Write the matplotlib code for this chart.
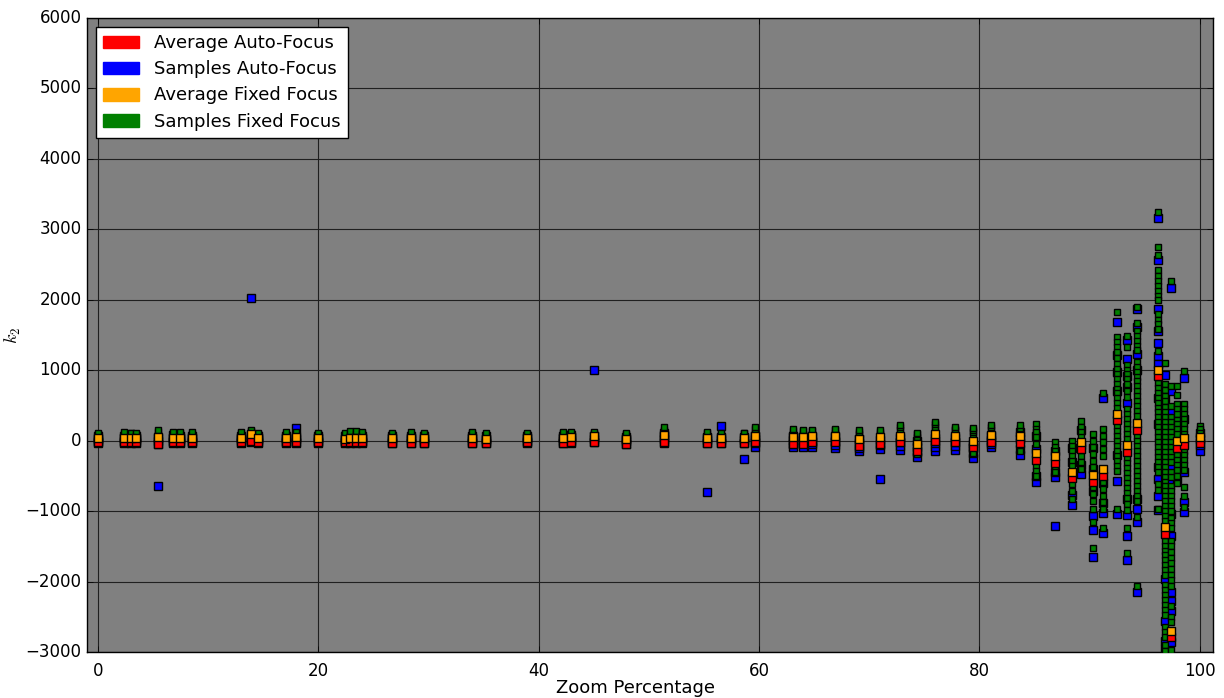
import matplotlib
matplotlib.use("Agg")
import matplotlib.pyplot as plt
from matplotlib.patches import Patch

plt.style.use("classic")

# ---------------- data ----------------
zoom_pct = [0.0, 2.36, 2.97, 3.45, 5.42, 6.78, 7.47, 8.53, 12.98, 13.88,
            14.55, 17.03, 17.99, 19.94, 22.41, 22.87, 23.38, 23.93, 26.65, 28.38,
            29.58, 33.97, 35.18, 38.9, 42.22, 42.95, 44.98, 47.88, 51.36, 55.26,
            56.56, 58.59, 59.59, 63.04, 63.95, 64.82, 66.88, 69.06, 70.99, 72.8,
            74.32, 76.01, 77.8, 79.4, 81.03, 83.7, 85.1, 86.9, 88.4, 89.2,
            90.3, 91.2, 92.5, 93.4, 94.3, 96.2, 96.8, 97.4, 97.9, 98.6,
            100.0]

avg_auto = [-20, -25, -25, -25, -45, -25, -25, -25, -20, 0,
            -25, -25, -15, -25, -25, -25, -25, -25, -30, -30,
            -30, -30, -30, -25, -30, -25, -20, -45, -25, -30,
            -30, -30, -25, -45, -45, -25, -25, -70, -45, -25,
            -140, 0, -25, -95, -15, -35, -270, -310, -535, -120,
            -585, -500, 295, -165, 150, 913, -1325, -2783, -109, -57,
            -35]

avg_fixed = [35, 40, 35, 40, 45, 40, 40, 35, 40, 90,
             40, 40, 50, 35, 30, 40, 40, 40, 35, 35,
             35, 35, 30, 35, 35, 45, 60, 20, 80, 40,
             40, 40, 70, 55, 55, 70, 70, 25, 45, 70,
             -45, 95, 70, 0, 80, 65, -175, -215, -440, -25,
             -485, -400, 385, -60, 246, 1008, -1231, -2698, 0, 38,
             50]

samples_auto = [
    [-40, -5, 30, 65], [-35, 0, 35, 70], [-30, 5, 40, 75], [-35, 5, 40, 70],
    [-650, -50, -10, 40], [-35, 0, 40, 75], [-30, 5, 35, 70], [-35, 0, 40, 70],
    [-35, 5, 40, 70], [2030, -20, 30, 80], [-30, 5, 35, 70], [-35, 0, 40, 70],
    [185, -30, 20, 60], [-35, 0, 35, 65], [-40, -5, 30, 60], [-30, 5, 40, 70],
    [-35, 0, 40, 75], [-35, 0, 35, 70], [-40, 0, 35, 65], [-35, 5, 40, 70],
    [-40, 0, 30, 60], [-35, 0, 35, 70], [-35, 0, 30, 60], [-30, 0, 35, 65],
    [-35, 0, 35, 70], [-30, 5, 45, 80], [1000, -25, 20, 60], [-50, -10, 25, 55],
    [-30, 20, 70, 110], [-730, -35, 10, 50], [215, -35, 10, 50], [-265, -30, 10, 50],
    [-85, -40, 20, 60], [-95, -50, 10, 60], [-90, -40, 10, 50], [-95, -50, 0, 50],
    [-110, -60, 0, 50], [-150, -100, -40, 20], [-545, -120, -60, 10], [-130, -80, -20, 40],
    [-235, -160, -90, 0], [-140, -90, -30, 40], [-130, -80, -20, 40], [-250, -170, -110, -50],
    [-95, -50, 10, 60],
    [-205, -120, 30, 120],
    [-590, -500, -120, 60],
    [-1205, -520, -450, -150],
    [-910, -770, -300, -100],
    [-475, -350, -60, 150],
    [-1655, -1265, -1065, -710, -400, -100],
    [600, -1020, -1315, -880, -600],
    [1680, 1220, 970, 700, -200, -570, -1040],
    [1430, 1160, 920, 760, 530, -830, -1050, -1350, -1700],
    [1870, 1609, 1231, 1000, -830, -970, -1160, -2154],
    [3162, 2566, 1870, 1552, 1387, 1207, 1089, 600, 230, -379, -544, -781, -990],
    [937, 606, -400, -545, -1965, -2555, -2840, -2960],
    [2163, 710, 402, -379, -568, -1041, -1349, -2154, -2272, -2414, -2854],
    [300, -250, -544],
    [890, 308, -450, -866, -1018],
    [-140, -60, 30, 110],
]

samples_fixed = [
    [25, 60, 95, 115], [30, 65, 100, 120], [30, 70, 105, 115], [25, 60, 95, 110],
    [40, 80, 120, 150], [35, 70, 105, 125], [35, 75, 110, 130], [30, 70, 100, 125],
    [35, 70, 110, 125], [70, 110, 140, 150], [30, 65, 100, 115], [30, 70, 100, 120],
    [40, 80, 110, 125], [25, 60, 95, 110], [30, 65, 100, 115], [40, 80, 115, 135],
    [40, 80, 115, 135], [35, 75, 110, 125], [30, 70, 100, 115], [30, 70, 100, 120],
    [25, 60, 90, 105], [35, 75, 110, 125], [20, 55, 85, 105], [25, 60, 90, 105],
    [35, 75, 110, 125], [40, 80, 110, 125], [45, 85, 115, 125], [20, 55, 90, 110],
    [60, 110, 150, 190], [30, 70, 105, 120], [30, 65, 100, 115], [35, 70, 105, 115],
    [60, 110, 160, 200], [50, 100, 140, 165], [50, 100, 135, 150], [55, 100, 135, 150],
    [60, 110, 145, 165], [40, 90, 130, 150], [60, 100, 130, 150], [100, 150, 190, 225],
    [-190, 55, 90, 105], [150, 190, 230, 270], [100, 150, 170, 190], [-180, 60, 120, 150, 175],
    [100, 150, 190, 225],
    [-140, 100, 140, 180, 220],
    [235, 170, 118, 47, -47, -355, -426, -497],
    [-25, -85, -140, -380, -440],
    [0, -71, -142, -213, -284, -355, -615, -710, -828],
    [274, 189, 118, 47, -213, -308, -402],
    [95, 0, -95, -189, -284, -379, -663, -757, -852, -970, -1150, -1530],
    [680, 166, 71, -24, -118, -213, -592, -686, -781, -876, -970, -1245],
    [1820, 1470, 1400, 1330, 1260, 1180, 1090, 1020, 950, 880, 810, 740, 670, 600,
     530, 460, 210, 140, 70, 0, -70, -140, -220, -290, -360, -430, -970],
    [1480, 1325, 1080, 1010, 940, 870, 800, 700, 620, 450, 380, 310, 240, 170, 100,
     30, -250, -320, -390, -460, -530, -600, -670, -740, -810, -900, -990, -1240, -1600],
    [1893, 1666, 1560, 1490, 1420, 1350, 1280, 1120, 1050, 980, 910, 840, 770, 700,
     630, 560, 490, 420, 350, 60, -10, -80, -150, -220, -290, -360, -430, -500, -570,
     -640, -710, -780, -850, -1090, -2068],
    [3242, 2745, 2641, 2424, 2340, 2270, 2200, 2130, 2060, 1990, 1800, 1720, 1650,
     1590, 1278, 820, 750, 680, 610, 540, 470, 400, 330, 260, 190, 120, 50, -20, -90,
     -160, -230, -300, -370, -440, -620, -700, -970],
    [1098, 805, 720, 640, 560, 480, 400, 330, 260, 190, 120, 50, -20, -90, -160, -230,
     -300, -370, -440, -510, -580, -650, -720, -790, -860, -930, -1000, -1070, -1140,
     -1420, -1490, -1560, -1630, -1700, -1770, -1840, -1910, -2050, -2120, -2190,
     -2260, -2330, -2400, -2470, -2640, -2710, -2780, -2900, -2980],
    [2272, 781, 497, 330, 260, 190, 120, 50, -20, -90, -160, -230, -300, -440, -510,
     -650, -720, -790, -860, -930, -1000, -1100, -1170, -1240, -1420, -1500, -1580,
     -1660, -1740, -1820, -1900, -1980, -2060, -2340, -2500, -2580, -2968],
    [780, 650, 520, 450, 380, 300, 230, 160, 90, -200, -270, -340, -420, -500, -600],
    [984, 521, 450, 380, 310, 240, 170, 100, -140, -210, -280, -350, -420, -660, -780, -940],
    [213, 160, 110],
]

legend_labels = ["Average Auto-Focus", "Samples Auto-Focus",
                 "Average Fixed Focus", "Samples Fixed Focus"]
legend_colors = ["red", "blue", "orange", "green"]

# ---------------- plotting ----------------
fig = plt.figure(figsize=(12.24, 6.98), dpi=100, facecolor="white")
ax = fig.add_axes([87 / 1224, 1 - 652 / 698, (1213 - 87) / 1224, (652 - 18) / 698])
ax.set_facecolor("#808080")

ax_x = [x for x, s in zip(zoom_pct, samples_auto) for _ in s]
ax_y = [v for s in samples_auto for v in s]
fx_x = [x for x, s in zip(zoom_pct, samples_fixed) for _ in s]
fx_y = [v for s in samples_fixed for v in s]

ax.plot(ax_x, ax_y, linestyle="none", marker="s", markersize=6,
        markerfacecolor="blue", markeredgecolor="black", markeredgewidth=1, zorder=3)
ax.plot(fx_x, fx_y, linestyle="none", marker="s", markersize=4.5,
        markerfacecolor="green", markeredgecolor="black", markeredgewidth=1, zorder=4)
ax.plot(zoom_pct, avg_auto, linestyle="none", marker="s", markersize=6,
        markerfacecolor="red", markeredgecolor="black", markeredgewidth=1, zorder=5)
ax.plot(zoom_pct, avg_fixed, linestyle="none", marker="s", markersize=6,
        markerfacecolor="orange", markeredgecolor="black", markeredgewidth=1, zorder=6)

ax.set_xlim(-1, 101.2)
ax.set_ylim(-3000, 6000)
ax.set_xticks([0, 20, 40, 60, 80, 100])
ax.set_yticks(range(-3000, 6001, 1000))
ax.grid(True, linestyle="-", color="#202020", linewidth=0.8)
ax.set_axisbelow(True)
ax.tick_params(labelsize=12)
ax.tick_params(axis="x", pad=7)

ax.set_xlabel("Zoom Percentage", fontsize=13)
ax.xaxis.set_label_coords(0.4867, -0.042)
ax.set_ylabel("$k_2$", fontsize=13)
ax.yaxis.set_label_coords(-0.057, 0.5)

handles = [Patch(facecolor=c, edgecolor=c, label=l)
           for c, l in zip(legend_colors, legend_labels)]
leg = ax.legend(handles=handles, loc="upper left", fontsize=13,
                fancybox=False, framealpha=1, labelspacing=0.45)
leg.get_frame().set_edgecolor("black")

fig.savefig("out.png", dpi=100, facecolor="white")
